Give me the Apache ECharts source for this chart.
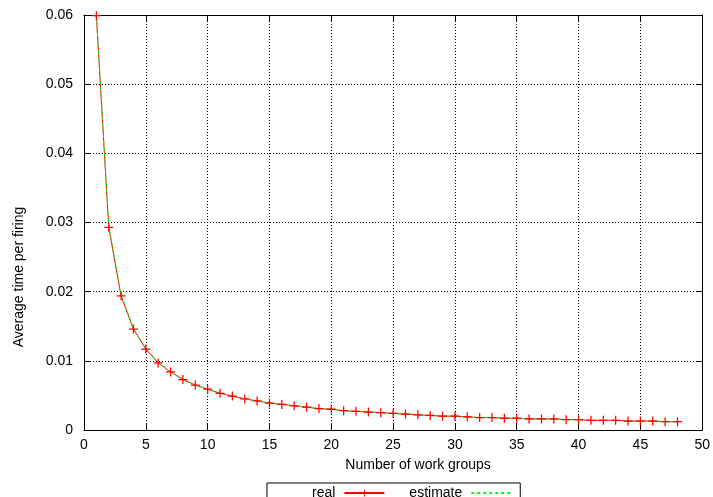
<!DOCTYPE html>
<html>
<head>
<meta charset="utf-8">
<script src="https://cdn.jsdelivr.net/npm/echarts@6/dist/echarts.min.js"></script>
<style>html,body{margin:0;padding:0;background:#fff}#c{width:713px;height:497px}</style>
</head>
<body>
<div id="c"></div>
<script>
var groups = [1,2,3,4,5,6,7,8,9,10,11,12,13,14,15,16,17,18,19,20,21,22,23,24,25,26,27,28,29,30,31,32,33,34,35,36,37,38,39,40,41,42,43,44,45,46,47,48];
var realTimes = [0.0599,0.0293,0.0194,0.0146,0.0117,0.0097,0.0084,0.0073,0.0065,0.0059,0.0053,0.0049,0.0045,0.0042,0.0039,0.0037,0.0035,0.0033,0.0031,0.0030,0.0028,0.0027,0.0026,0.0025,0.0024,0.0023,0.0022,0.0021,0.0020,0.0020,0.0019,0.0018,0.0018,0.0017,0.0017,0.0016,0.0016,0.0016,0.0015,0.0015,0.0014,0.0014,0.0014,0.0013,0.0013,0.0013,0.0012,0.0012];
var estimateTimes = [0.0600,0.0296,0.0196,0.0147,0.0118,0.0098,0.0084,0.0074,0.0065,0.0059,0.0054,0.0049,0.0045,0.0042,0.0039,0.0037,0.0035,0.0033,0.0031,0.0030,0.0028,0.0027,0.0026,0.0025,0.0024,0.0023,0.0022,0.0021,0.0020,0.0020,0.0019,0.0018,0.0018,0.0017,0.0017,0.0016,0.0016,0.0016,0.0015,0.0015,0.0014,0.0014,0.0014,0.0013,0.0013,0.0013,0.0012,0.0012];
var xTicks = [0,5,10,15,20,25,30,35,40,45,50];
var yTicks = ['0','0.01','0.02','0.03','0.04','0.05','0.06'];

var font = 'Liberation Sans, Arial, sans-serif';
var plusPath = 'path://M4.3,0H5.7V4.3H10V5.7H5.7V10H4.3V5.7H0V4.3H4.3Z';
function pairs(ys){ return groups.map(function(g,i){ return [g, ys[i]]; }); }

var baseAxisX = {
  type:'value', min:xTicks[0], max:xTicks[xTicks.length-1], interval:5,
  axisLine:{show:true, onZero:false, lineStyle:{color:'#000', width:1}},
  axisTick:{show:true, inside:true, length:6, lineStyle:{color:'#000'}},
  splitLine:{show:false}
};
var baseAxisY = {
  type:'value', min:0, max:0.06, interval:0.01,
  axisLine:{show:true, onZero:false, lineStyle:{color:'#000', width:1}},
  axisTick:{show:true, inside:true, length:6, lineStyle:{color:'#000'}},
  splitLine:{show:false}
};

var chart = echarts.init(document.getElementById('c'), null, {renderer:'canvas'});
chart.setOption({
  animation:false,
  backgroundColor:'#fff',
  textStyle:{fontFamily:font},
  grid:{left:84, right:10, top:15, bottom:67, containLabel:false},
  xAxis:[
    Object.assign({}, baseAxisX, {
      position:'bottom',
      name:'Number of work groups', nameLocation:'middle', nameGap:28,
      nameTextStyle:{fontSize:14, color:'#000', fontFamily:font, padding:[0,0,0,50]},
      axisLabel:{show:true, margin:8, fontSize:14, color:'#000', fontFamily:font,
        formatter:function(v){ return xTicks.indexOf(v)>=0 ? String(v) : ''; }},
      splitLine:{show:true, lineStyle:{color:'#000', width:1, type:[1,2]}}
    }),
    Object.assign({}, baseAxisX, {position:'top', axisLabel:{show:false}})
  ],
  yAxis:[
    Object.assign({}, baseAxisY, {
      position:'left',
      name:'Average time per firing', nameLocation:'middle', nameGap:58,
      nameTextStyle:{fontSize:14, color:'#000', fontFamily:font, padding:[0,109,0,0]},
      axisLabel:{show:true, margin:11, fontSize:14, color:'#000', fontFamily:font,
        formatter:function(v){ var i=Math.round(v/0.01); return yTicks[i]; }},
      splitLine:{show:true, lineStyle:{color:'#000', width:1, type:[1,2]}}
    }),
    Object.assign({}, baseAxisY, {position:'right', axisLabel:{show:false}})
  ],
  legend:{
    show:true, orient:'horizontal', left:267, top:483,
    align:'right',
    padding:[3,8,6,45],
    itemGap:24, itemWidth:40, itemHeight:9,
    borderColor:'#000', borderWidth:1, borderRadius:0,
    textStyle:{fontSize:14, color:'#000', fontFamily:font, padding:[0,4,0,0]},
    data:[
      {name:'real'},
      {name:'estimate', itemStyle:{opacity:0}}
    ]
  },
  series:[
    {
      name:'real', type:'line', data:pairs(realTimes),
      xAxisIndex:0, yAxisIndex:0,
      symbol:plusPath, symbolSize:9, showSymbol:true,
      itemStyle:{color:'#ff0000'},
      lineStyle:{color:'#ff0000', width:1},
      emphasis:{disabled:true}
    },
    {
      name:'estimate', type:'line', data:pairs(estimateTimes),
      xAxisIndex:0, yAxisIndex:0,
      symbol:'none',
      itemStyle:{color:'#00ff00'},
      lineStyle:{color:'#00ff00', width:1, type:[3,3]},
      emphasis:{disabled:true}
    }
  ]
});
</script>
</body>
</html>
